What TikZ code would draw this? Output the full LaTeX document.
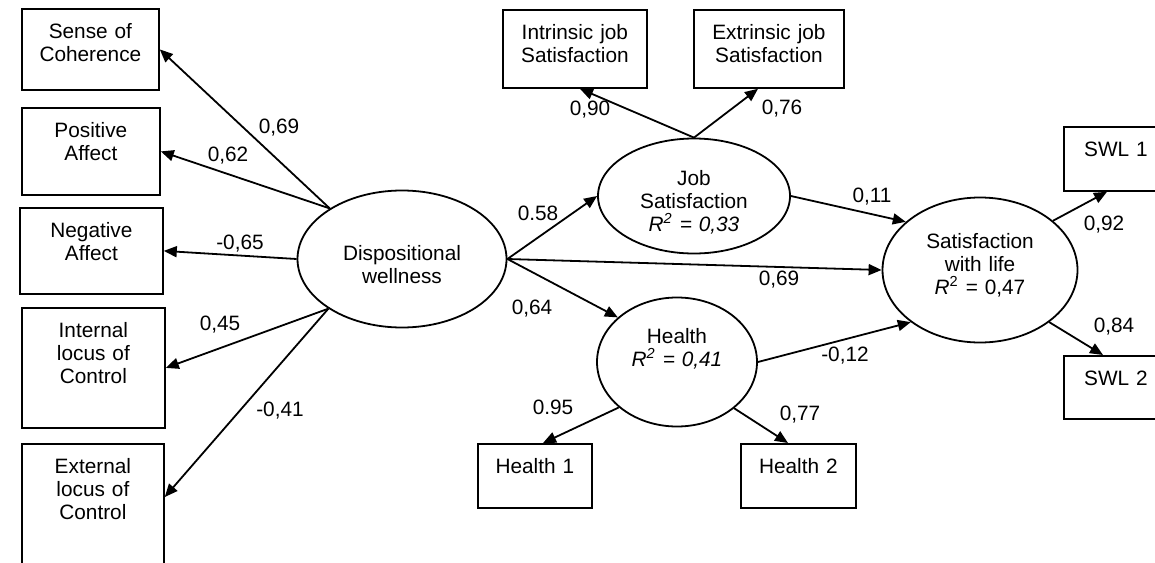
\documentclass[tikz,border=0pt]{standalone}
\usepackage{fontspec}
\setmainfont{Liberation Sans}
\usetikzlibrary{arrows.meta,shapes.geometric}

\begin{document}
\begin{tikzpicture}[
  x=0.5pt, y=-0.5pt,
  >={Triangle[length=6.5pt,width=5.5pt]}, line width=0.9pt,
  font=\fontsize{10.4}{11.5}\selectfont,
  ind/.style={draw,rectangle,anchor=north west,align=center,inner sep=0pt,text height=15pt},
  lat/.style={draw,ellipse,fill=white,align=center,inner sep=0pt},
  lbl/.style={inner sep=1pt},
]
\useasboundingbox (0,0) rectangle (1155,562);

% --- indicators of dispositional wellness ---
\node[ind,text width=68.5pt,text depth=25.5pt] (soc) at (21,8)   {Sense of\\Coherence};
\node[ind,text width=69pt,  text depth=28.5pt] (pa)  at (21,107) {Positive\\Affect};
\node[ind,text width=71.5pt,text depth=28pt]   (na)  at (19,207) {Negative\\Affect};
\node[ind,text width=71.5pt,text depth=45pt]   (ilc) at (21,307) {Internal\\locus of\\Control};
\node[ind,text width=71pt,  text depth=55pt]   (elc) at (21,443) {External\\locus of\\Control};

% --- indicators of the other latents ---
\node[ind,text width=72pt,  text depth=24pt]   (ijs)  at (502,9)    {Intrinsic job\\Satisfaction};
\node[ind,text width=75pt,  text depth=24pt]   (ejs)  at (693,9)    {Extrinsic job\\Satisfaction};
\node[ind,text width=57pt,  text depth=17pt]   (h1)   at (477,443)  {Health 1};
\node[ind,text width=57.5pt,text depth=17pt]   (h2)   at (740,443)  {Health 2};
\node[ind,text width=52pt,  text depth=17pt]   (swl1) at (1063,126) {SWL 1};
\node[ind,text width=52pt,  text depth=16.5pt] (swl2) at (1063,355) {SWL 2};

% --- latent variables ---
\node[lat,minimum width=104.5pt,minimum height=68.5pt,text width=64pt,text height=12pt,text depth=11pt]
  (dw) at (402,259) {Dispositional\\wellness};
\node[lat,minimum width=96pt,minimum height=57.5pt,text width=56pt,text height=8pt,text depth=19pt]
  (js) at (694,196) {Job\\Satisfaction\\\textit{R\textsuperscript{2} = 0,33}};
\node[lat,minimum width=80pt,minimum height=64.5pt,text width=50pt,text height=8pt,text depth=27pt]
  (hl) at (677,362) {Health\\\textit{R\textsuperscript{2} = 0,41}};
\node[lat,minimum width=97.5pt,minimum height=72.5pt,text width=56pt,text height=8pt,text depth=30pt]
  (swl) at (980,270) {Satisfaction\\with life\\\textit{R}\textsuperscript{2} = 0,47};

% --- loadings ---
\draw[->] (dw.145) -- (soc.east) node[lbl] at (279,128) {0,69};
\draw[->] (dw.145) -- (pa.east)  node[lbl] at (228,156) {0,62};
\draw[->] (dw.west) -- (na.east) node[lbl] at (240,244) {-0,65};
\draw[->] (dw.214) -- (ilc.east) node[lbl] at (220,325) {0,45};
\draw[->] (dw.214) -- ([yshift=-27pt]elc.north east) node[lbl] at (280,411) {-0,41};
\draw[->] (js.north) -- ([xshift=39pt]ijs.south west)   node[lbl] at (590,110) {0,90};
\draw[->] (js.north) -- ([xshift=32.5pt]ejs.south west) node[lbl] at (782,109) {0,76};
\draw[->] (hl.218) -- ([xshift=33pt]h1.north west) node[lbl] at (553,407) {0.95};
\draw[->] (hl.-39) -- ([xshift=24pt]h2.north west) node[lbl] at (800,415) {0,77};
\draw[->] (swl.34)  -- ([xshift=22pt]swl1.south west) node[lbl] at (1104,225) {0,92};
\draw[->] (swl.-37) -- ([xshift=20pt]swl2.north west) node[lbl] at (1114,327) {0,84};

% --- structural paths ---
\draw[->] (dw.east) -- (js.west)  node[lbl] at (538,213) {0.58};
\draw[->] (dw.east) -- (swl.west) node[lbl] at (779,280) {0,69};
\draw[->] (dw.east) -- (hl.143)   node[lbl] at (532,309) {0,64};
\draw[->] (js.east) -- (swl.147)  node[lbl] at (872,197) {0,11};
\draw[->] (hl.east) -- (swl.217)  node[lbl] at (845,356) {-0,12};
\end{tikzpicture}
\end{document}
